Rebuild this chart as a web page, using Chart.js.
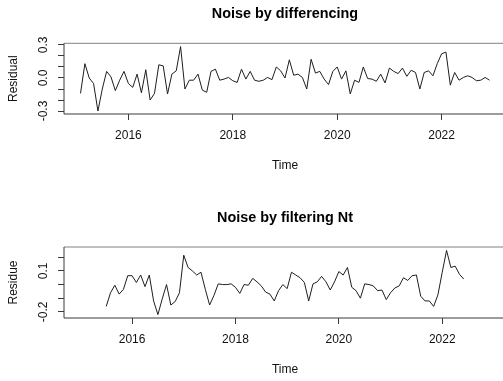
<!DOCTYPE html>
<html>
<head>
<meta charset="utf-8">
<title>Noise residuals</title>
<script src="https://cdn.jsdelivr.net/npm/chart.js@4/dist/chart.umd.min.js"></script>
<style>
  html, body { margin: 0; padding: 0; background: #fff; overflow: hidden; }
  #wrap { position: relative; width: 503px; height: 381px; overflow: hidden; }
  canvas { position: absolute; left: 0; }
  #diffChart { top: 0; }
  #filtChart { top: 190px; }
</style>
</head>
<body>
<div id="wrap">
  <canvas id="diffChart" width="512" height="190"></canvas>
  <canvas id="filtChart" width="512" height="191"></canvas>
</div>
<script>
// Residuals after differencing, monthly from Feb 2015 to Dec 2022
const diffStart = 2015 + 1 / 12;
const diffResidual = [
  -0.14, 0.13, 0.0, -0.05, -0.30, -0.10, 0.06, 0.01, -0.115, -0.02,
  0.06, -0.05, -0.085, 0.035, -0.135, 0.075, -0.20, -0.14, 0.12, 0.11,
  -0.145, 0.035, 0.065, 0.285, -0.10, -0.02, -0.02, 0.035, -0.11, -0.13,
  0.06, 0.08, -0.02, -0.01, 0.005, -0.025, -0.04, 0.08, -0.01, 0.06,
  -0.02, -0.03, -0.02, 0.005, -0.015, 0.10, 0.065, 0.0, 0.165, 0.025,
  0.035, 0.005, -0.10, 0.17, 0.045, 0.06, -0.01, -0.06, 0.06, 0.10,
  -0.01, 0.065, -0.145, -0.02, -0.04, 0.10, -0.005, -0.01, -0.03, 0.035,
  -0.045, 0.09, 0.06, 0.04, 0.09, 0.015, 0.07, 0.05, -0.10, 0.05,
  0.065, 0.02, 0.13, 0.22, 0.235, -0.065, 0.05, -0.02, 0.005, 0.02,
  0.005, -0.025, -0.02, 0.005, -0.02
];

// Residue left after filtering Nt, monthly from Jul 2015 to Jun 2022
const filtStart = 2015 + 6 / 12;
const filtResidue = [
  -0.16, -0.06, -0.005, -0.07, -0.035, 0.065, 0.065, 0.015, 0.07, -0.015,
  0.07, -0.12, -0.22, -0.105, 0.0, -0.15, -0.125, -0.06, 0.215, 0.125,
  0.10, 0.07, 0.09, -0.035, -0.15, -0.08, 0.005, 0.0, 0.0, 0.005,
  -0.02, -0.065, 0.0, -0.005, 0.045, 0.02, -0.01, -0.055, -0.07, -0.12,
  -0.045, 0.0, -0.03, 0.09, 0.07, 0.05, 0.015, -0.12, 0.005, 0.02,
  0.06, 0.02, -0.04, 0.02, 0.095, 0.07, 0.125, -0.02, -0.045, -0.10,
  0.005, 0.0, -0.01, -0.045, -0.04, -0.11, -0.06, -0.025, -0.01, 0.05,
  0.03, 0.065, 0.07, -0.085, -0.12, -0.12, -0.16, -0.075, 0.09, 0.25,
  0.125, 0.135, 0.075, 0.04
];

// Axis ticks and which of them carry a label
const yearTicks = [2016, 2018, 2020, 2022];
const diffYTicks = [-0.3, -0.2, -0.1, 0.0, 0.1, 0.2, 0.3];
const diffYLabels = [-0.3, 0.0, 0.3];
const filtYTicks = [-0.2, -0.1, 0.0, 0.1, 0.2];
const filtYLabels = [-0.2, 0.1];

const FONT = "'Liberation Sans', Arial, Helvetica, sans-serif";
Chart.defaults.font.family = FONT;

function toPoints(start, values) {
  return values.map((v, i) => ({ x: start + i / 12, y: v }));
}

function hasLabel(list, v) {
  return list.some(t => Math.abs(t - v) < 1e-9);
}

// Box around the plotting region
const framePlugin = {
  id: 'frame',
  afterDatasetsDraw(chart) {
    const { ctx, chartArea: a } = chart;
    ctx.save();
    ctx.lineWidth = 1;
    ctx.strokeStyle = '#808080';
    ctx.beginPath();
    ctx.moveTo(a.left, a.top);
    ctx.lineTo(a.right, a.top);
    ctx.stroke();
    ctx.strokeStyle = '#3a3a3a';
    ctx.beginPath();
    ctx.moveTo(a.left, a.top);
    ctx.lineTo(a.left, a.bottom);
    ctx.lineTo(a.right, a.bottom);
    ctx.lineTo(a.right, a.top);
    ctx.stroke();
    ctx.restore();
  }
};

function panel(id, opt) {
  return new Chart(document.getElementById(id), {
    type: 'line',
    data: {
      datasets: [{
        data: toPoints(opt.start, opt.values),
        borderColor: '#1e1e1e',
        borderWidth: 1,
        pointRadius: 0,
        tension: 0,
        fill: false
      }]
    },
    options: {
      responsive: false,
      animation: false,
      events: [],
      layout: { padding: { left: 0, right: 6, top: 0, bottom: 0 } },
      plugins: {
        legend: { display: false },
        tooltip: { enabled: false },
        title: {
          display: true,
          text: opt.title,
          fullSize: false,
          color: '#000',
          font: { family: FONT, size: 14.4, weight: 'bold' },
          padding: { top: opt.titlePadTop, bottom: opt.titlePadBottom }
        }
      },
      scales: {
        x: {
          type: 'linear',
          position: 'bottom',
          min: opt.xMin,
          max: opt.xMax,
          afterBuildTicks: s => { s.ticks = yearTicks.map(v => ({ value: v })); },
          afterFit: s => { s.height = opt.xAxisHeight; },
          grid: { drawOnChartArea: false, drawTicks: true, tickLength: 6, color: '#3a3a3a' },
          border: { display: false },
          ticks: {
            autoSkip: false, minRotation: 0, maxRotation: 0, padding: 8.8,
            color: '#111', font: { family: FONT, size: 12 },
            callback: v => String(v)
          },
          title: {
            display: true, text: 'Time', color: '#111',
            font: { family: FONT, size: 12 },
            padding: { top: 0, bottom: opt.timePadBottom }
          }
        },
        y: {
          type: 'linear',
          position: 'left',
          min: opt.yMin,
          max: opt.yMax,
          afterBuildTicks: s => { s.ticks = opt.yTicks.map(v => ({ value: v })); },
          afterFit: s => { s.width = 64; },
          grid: { drawOnChartArea: false, drawTicks: true, tickLength: 6, color: '#3a3a3a' },
          border: { display: false },
          ticks: {
            autoSkip: false, minRotation: 90, maxRotation: 90, padding: 4.4,
            crossAlign: 'center',
            color: '#111', font: { family: FONT, size: 12 },
            callback: v => hasLabel(opt.yLabels, v) ? v.toFixed(1) : ''
          },
          title: {
            display: true, text: opt.yTitle, color: '#111',
            font: { family: FONT, size: 12 },
            padding: { top: 6.8, bottom: 0 }
          }
        }
      }
    },
    plugins: [framePlugin]
  });
}

panel('diffChart', {
  title: 'Noise by differencing',
  yTitle: 'Residual',
  start: diffStart,
  values: diffResidual,
  xMin: 2014.7667, xMax: 2023.2333,
  yMin: -0.327, yMax: 0.315,
  yTicks: diffYTicks, yLabels: diffYLabels,
  titlePadTop: 5.66, titlePadBottom: 20.36,
  xAxisHeight: 76, timePadBottom: 17.1
});

panel('filtChart', {
  title: 'Noise by filtering Nt',
  yTitle: 'Residue',
  start: filtStart,
  values: filtResidue,
  xMin: 2014.6833, xMax: 2023.2333,
  yMin: -0.245, yMax: 0.275,
  yTicks: filtYTicks, yLabels: filtYLabels,
  titlePadTop: 19.66, titlePadBottom: 20.06,
  xAxisHeight: 63, timePadBottom: 4.5
});
</script>
</body>
</html>
